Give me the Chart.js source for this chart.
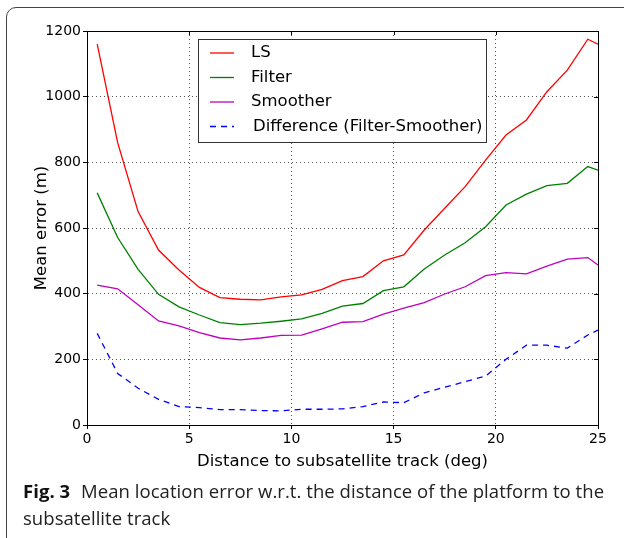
<!DOCTYPE html>
<html>
<head>
<meta charset="utf-8">
<script src="https://cdn.jsdelivr.net/npm/chart.js@4.4.0/dist/chart.umd.min.js"></script>
<style>
    body { margin: 0; background: #fff; width: 624px; height: 538px; overflow: hidden; position: relative; }
    #frame { position: absolute; left: 6px; top: 7px; width: 660px; height: 540px; border: 1px solid #444; border-radius: 10px; }
    #wrap { position: absolute; left: 0; top: 0; width: 624px; height: 480px; }
    #caption { position: absolute; left: 23px; top: 477px; width: 600px; font-family: "Open Sans", sans-serif; font-size: 18.5px; line-height: 27px; color: #222; letter-spacing: 0.05px; }
    #caption b { font-weight: 700; color: #111; margin-right: 6px; }
</style>
</head>
<body>
<div id="frame"></div>
<div id="wrap"><canvas id="errChart" width="624" height="480"></canvas></div>
<div id="caption"><b>Fig. 3</b> Mean location error w.r.t. the distance of the platform to the subsatellite track</div>
<script>
const distances = [0.5, 1.5, 2.5, 3.5, 4.5, 5.5, 6.5, 7.5, 8.5, 9.5, 10.5, 11.5, 12.5,
    13.5, 14.5, 15.5, 16.5, 17.5, 18.5, 19.5, 20.5, 21.5, 22.5, 23.5, 24.5, 25];
const lsError = [1160, 860, 650, 533, 472, 419, 388, 383, 381, 390, 396, 413, 440,
    452, 500, 518, 594, 660, 726, 807, 883, 929, 1015, 1081, 1175, 1160];
const filterError = [707, 571, 474, 398, 360, 335, 312, 306, 310, 316, 323, 340, 362,
    370, 409, 421, 475, 518, 555, 604, 670, 703, 729, 736, 787, 776];
const smootherError = [426, 415, 366, 317, 302, 281, 265, 259, 265, 273, 274, 293, 313,
    315, 338, 356, 373, 399, 421, 455, 464, 460, 484, 505, 510, 487];
const diffError = [279, 157, 112, 78, 56, 53, 47, 47, 44, 43, 48, 48, 49,
    56, 70, 68, 98, 115, 132, 149, 200, 243, 243, 234, 274, 289];
const seriesNames = ['LS', 'Filter', 'Smoother', 'Difference (Filter-Smoother)'];
const xTicks = [0, 5, 10, 15, 20, 25];
const yTicks = [0, 200, 400, 600, 800, 1000, 1200];

const FONT = '"DejaVu Sans", sans-serif';

function toPoints(values) {
    return values.map((v, i) => ({ x: distances[i], y: v }));
}

// matplotlib style: full frame, inward ticks on top/right, legend box in the corner
const framePlugin = {
    id: 'frame',
    afterDraw(chart) {
        const ctx = chart.ctx;
        const a = chart.chartArea;
        const xs = chart.scales.x;
        const ys = chart.scales.y;
        ctx.save();
        ctx.strokeStyle = '#000';
        ctx.lineWidth = 1;
        ctx.setLineDash([]);
        ctx.strokeRect(Math.round(a.left) + 0.5, Math.round(a.top) + 0.5,
            Math.round(a.right - a.left), Math.round(a.bottom - a.top));
        ctx.beginPath();
        xTicks.forEach(t => {
            const px = Math.round(xs.getPixelForValue(t)) + 0.5;
            ctx.moveTo(px, a.top);
            ctx.lineTo(px, a.top + 4);
        });
        yTicks.forEach(t => {
            const py = Math.round(ys.getPixelForValue(t)) + 0.5;
            ctx.moveTo(a.right, py);
            ctx.lineTo(a.right - 4, py);
        });
        ctx.stroke();

        // legend
        const lx = 198.5, ly = 39.5, lw = 288, lh = 103;
        ctx.fillStyle = '#fff';
        ctx.fillRect(lx, ly, lw, lh);
        ctx.strokeStyle = '#333';
        ctx.strokeRect(lx, ly, lw, lh);
        ctx.font = '16.5px ' + FONT;
        ctx.textBaseline = 'middle';
        chart.data.datasets.forEach((ds, i) => {
            const y = 53 + i * 24.5;
            ctx.strokeStyle = ds.borderColor;
            ctx.lineWidth = 1.3;
            ctx.setLineDash(ds.borderDash || []);
            ctx.beginPath();
            ctx.moveTo(210, y);
            ctx.lineTo(234, y);
            ctx.stroke();
            ctx.fillStyle = '#000';
            ctx.fillText(ds.label, i === 3 ? 253 : 251, y);
        });
        ctx.restore();
    }
};

function makeChart() {
    const ctx = document.getElementById('errChart').getContext('2d');
    const colors = ['#ff0000', '#008000', '#bf00bf', '#0000ff'];
    const sets = [lsError, filterError, smootherError, diffError];
    new Chart(ctx, {
        type: 'line',
        data: {
            datasets: sets.map((s, i) => ({
                label: seriesNames[i],
                data: toPoints(s),
                borderColor: colors[i],
                borderWidth: 1.3,
                borderDash: i === 3 ? [6, 5] : [],
                pointRadius: 0,
                tension: 0,
                fill: false
            }))
        },
        options: {
            responsive: false,
            animation: false,
            devicePixelRatio: 1,
            layout: { padding: { left: 0, top: 31, right: 26, bottom: 0 } },
            plugins: { legend: { display: false }, tooltip: { enabled: false } },
            scales: {
                x: {
                    type: 'linear',
                    min: 0,
                    max: 25,
                    afterFit: s => { s.height = 55; },
                    afterBuildTicks: s => { s.ticks = xTicks.map(v => ({ value: v })); },
                    grid: { color: '#555', lineWidth: 1, tickLength: 4, tickColor: '#000', tickBorderDash: [] },
                    border: { color: '#000', width: 1, dash: [1, 3] },
                    ticks: { color: '#000', padding: 2, font: { family: FONT, size: 14 }, callback: v => String(v) },
                    title: { display: true, text: 'Distance to subsatellite track (deg)', color: '#000',
                        font: { family: FONT, size: 16.5 }, padding: { top: 0, bottom: 8 } }
                },
                y: {
                    min: 0,
                    max: 1200,
                    afterFit: s => { s.width = 87; },
                    afterBuildTicks: s => { s.ticks = yTicks.map(v => ({ value: v })); },
                    grid: { color: '#555', lineWidth: 1, tickLength: 4, tickColor: '#000', tickBorderDash: [] },
                    border: { color: '#000', width: 1, dash: [1, 3] },
                    ticks: { color: '#000', padding: 2, font: { family: FONT, size: 14 }, callback: v => String(v) },
                    title: { display: true, text: 'Mean error (m)', color: '#000',
                        font: { family: FONT, size: 16.5 }, padding: { top: 32, bottom: 0 } }
                }
            }
        },
        plugins: [framePlugin]
    });
}

makeChart();
</script>
</body>
</html>
